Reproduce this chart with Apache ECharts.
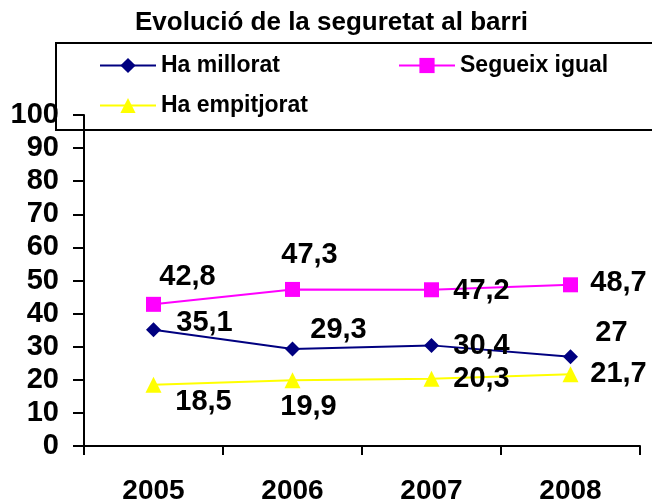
<!DOCTYPE html>
<html>
<head>
<meta charset="utf-8">
<script src="https://cdn.jsdelivr.net/npm/echarts@6/dist/echarts.min.js"></script>
<style>
  html, body { margin: 0; padding: 0; background: #fff; }
  #main { width: 652px; height: 504px; }
</style>
</head>
<body>
<div id="main"></div>
<script>
// dades
const years = ['2005', '2006', '2007', '2008'];
const haMillorat = [35.1, 29.3, 30.4, 27];
const segueixIgual = [42.8, 47.3, 47.2, 48.7];
const haEmpitjorat = [18.5, 19.9, 20.3, 21.7];

// posicio de les etiquetes respecte al punt (dx, dy)
const offMillorat = [[51, -7], [46, -19], [50, 1], [41, -24]];
const offIgual = [[34, -27], [17, -34], [50, 1], [48, -2]];
const offEmpitjorat = [[50, 17], [16, 27], [50, 0], [48, 0]];

const font = '"Liberation Sans", Arial, sans-serif';

function fmt(v) {
    return String(v).replace('.', ',');
}

function withLabels(values, offsets) {
    return values.map(function (v, i) {
        return {
            value: v,
            label: { offset: offsets[i] }
        };
    });
}

function makeSeries(name, values, offsets, color, symbol, size) {
    return {
        name: name,
        type: 'line',
        data: withLabels(values, offsets),
        symbol: symbol,
        symbolSize: size,
        itemStyle: { color: color },
        lineStyle: { color: color, width: 2 },
        label: {
            show: true,
            position: 'inside',
            formatter: function (p) { return fmt(p.value); },
            color: '#000',
            fontFamily: font,
            fontWeight: 'bold',
            fontSize: 29
        },
        animation: false
    };
}

var myChart = echarts.init(document.getElementById('main'));

const legendText = { fontFamily: font, fontWeight: 'bold', fontSize: 23, color: '#000' };

const option = {
    backgroundColor: '#fff',
    title: {
        text: 'Evolució de la seguretat al barri',
        left: 130,
        top: 5,
        textStyle: { fontFamily: font, fontWeight: 'bold', fontSize: 26, color: '#000' }
    },
    graphic: [{
        type: 'rect',
        z: 0,
        shape: { x: 56, y: 43, width: 620, height: 87 },
        style: { fill: 'none', stroke: '#000', lineWidth: 2 }
    }],
    legend: [
        { data: ['Ha millorat'], left: 94, top: 49, itemWidth: 56, itemHeight: 19, textStyle: legendText },
        { data: ['Segueix igual'], left: 393, top: 49, itemWidth: 56, itemHeight: 19, textStyle: legendText },
        { data: ['Ha empitjorat'], left: 94, top: 89, itemWidth: 56, itemHeight: 19, textStyle: legendText }
    ],
    grid: { left: 84, right: 12, top: 115, bottom: 58, outerBoundsMode: 'none' },
    xAxis: {
        type: 'category',
        data: years,
        boundaryGap: true,
        axisLine: { lineStyle: { color: '#000', width: 2 } },
        axisTick: { show: true, length: 9, lineStyle: { color: '#000', width: 2 } },
        axisLabel: { margin: 31, color: '#000', fontFamily: font, fontWeight: 'bold', fontSize: 28 }
    },
    yAxis: {
        type: 'value',
        min: 0,
        max: 100,
        interval: 10,
        splitLine: { show: false },
        axisLine: { show: true, lineStyle: { color: '#000', width: 2 } },
        axisTick: { show: true, length: 11, lineStyle: { color: '#000', width: 2 } },
        axisLabel: { margin: 25, color: '#000', fontFamily: font, fontWeight: 'bold', fontSize: 29 }
    },
    series: [
        makeSeries('Ha millorat', haMillorat, offMillorat, '#000080', 'diamond', 15),
        makeSeries('Segueix igual', segueixIgual, offIgual, '#FF00FF', 'rect', 15),
        makeSeries('Ha empitjorat', haEmpitjorat, offEmpitjorat, '#FFFF00', 'triangle', 16)
    ]
};

myChart.setOption(option);
</script>
</body>
</html>
